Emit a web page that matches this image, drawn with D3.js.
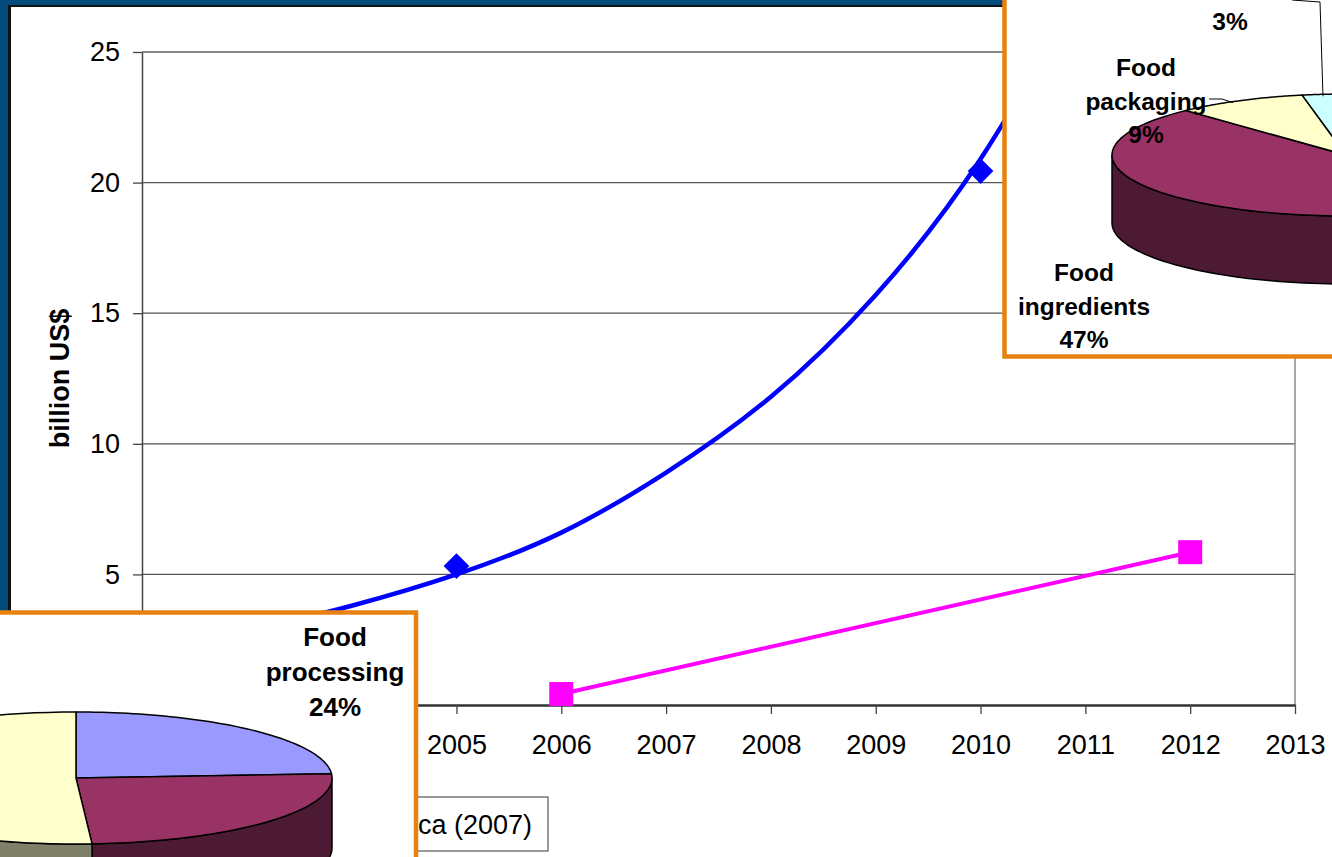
<!DOCTYPE html>
<html>
<head>
<meta charset="utf-8">
<script src="https://cdn.jsdelivr.net/npm/d3@7"></script>
<style>
  body { margin: 0; background: #fff; }
  svg { display: block; }
  text { font-family: "Liberation Sans", Arial, sans-serif; }
</style>
</head>
<body>
<svg width="1332" height="857"></svg>
<script>
// ---- data ----
const years = d3.range(2002, 2014);
const yTicks = [0, 5, 10, 15, 20, 25];

// blue diamonds (market estimates) and the fitted growth curve through them
const marketYears = [2005, 2010];
const marketValues = [5.32, 20.44];
const trendYears = [2003, 2004, 2005, 2006, 2007, 2008, 2009, 2010, 2011];
const trendValues = [2.8, 3.8, 5.0, 6.6, 8.9, 11.8, 15.7, 20.9, 27.8];

// magenta squares
const packYears = [2006, 2012];
const packValues = [0.42, 5.85];

// pie insets (only part of each is visible)
const topPieNames = ["Food processing", "Other", "Food ingredients", "Food packaging", ""];
const topPieValues = [24, 17, 47, 9, 3];
const bottomPieNames = ["Food processing", "Food ingredients", "Food packaging"];
const bottomPieValues = [24, 25, 51];

const sourceText = "Source: Cientifica (2007)";

// ---- setup ----
const svg = d3.select("svg");
const fill = { proc: "#9999FF", ingr: "#993366", pack: "#FFFFCC", other: "#CCFFFF" };
const side = { proc: "#4D4D80", ingr: "#4C1A33", pack: "#80806A", other: "#668080" };

// slide frame
svg.append("rect").attr("x", 0).attr("y", 0).attr("width", 1332).attr("height", 857).attr("fill", "#024B7A");
svg.append("rect").attr("x", 8).attr("y", 5).attr("width", 1340).attr("height", 870).attr("fill", "#111");
svg.append("rect").attr("x", 11).attr("y", 7).attr("width", 1340).attr("height", 870).attr("fill", "#fff");

const x = d3.scaleLinear().domain([2002, 2013]).range([142, 1295]);
const y = d3.scaleLinear().domain([0, 25]).range([705, 52]);

const g = svg.append("g");

// gridlines
g.selectAll("line.grid")
  .data(yTicks.filter(d => d > 0))
  .enter()
  .append("line")
    .attr("x1", x(2002)).attr("x2", x(2013))
    .attr("y1", d => y(d)).attr("y2", d => y(d))
    .attr("stroke", d => d == 25 ? "#8a8a8a" : "#555")
    .attr("stroke-width", d => d == 25 ? 2 : 1.3);

// right border of plot area
g.append("line")
  .attr("x1", x(2013)).attr("x2", x(2013))
  .attr("y1", y(25)).attr("y2", y(0))
  .attr("stroke", "#8a8a8a").attr("stroke-width", 1.5);

// y axis
const yAxis = g.append("g")
  .attr("transform", `translate(${x(2002)},0)`)
  .call(d3.axisLeft(y).tickValues(yTicks).tickSize(9).tickPadding(13).tickSizeOuter(0));
yAxis.select(".domain").attr("stroke", "#444").attr("stroke-width", 1.5);
yAxis.selectAll(".tick line").attr("stroke", "#444").attr("stroke-width", 1.3);
yAxis.selectAll("text").attr("font-size", 27).attr("fill", "#000")
  .style("font-family", '"Liberation Sans", Arial, sans-serif');

// x axis
const xAxis = g.append("g")
  .attr("transform", `translate(0,${y(0)})`)
  .call(d3.axisBottom(x).tickValues(years).tickFormat(d3.format("d")).tickSize(9).tickPadding(21).tickSizeOuter(0));
xAxis.select(".domain").attr("stroke", "#333").attr("stroke-width", 2.5);
xAxis.selectAll(".tick line").attr("stroke", "#444").attr("stroke-width", 1.3);
xAxis.selectAll("text").attr("font-size", 27).attr("fill", "#000")
  .style("font-family", '"Liberation Sans", Arial, sans-serif');

// y title
g.append("text")
  .attr("transform", `translate(69,${(y(0) + y(25)) / 2}) rotate(-90)`)
  .attr("text-anchor", "middle")
  .attr("font-size", 27)
  .attr("font-weight", "bold")
  .text("billion US$");

// clip for series
svg.append("clipPath").attr("id", "plotclip")
  .append("rect").attr("x", x(2002)).attr("y", y(25)).attr("width", x(2013) - x(2002)).attr("height", y(0) - y(25));

// growth curve
g.append("path")
  .datum(trendYears.map((yr, i) => [yr, trendValues[i]]))
  .attr("clip-path", "url(#plotclip)")
  .attr("fill", "none")
  .attr("stroke", "#0000FF")
  .attr("stroke-width", 4.5)
  .attr("d", d3.line().x(d => x(d[0])).y(d => y(d[1])).curve(d3.curveNatural));

// diamonds
g.selectAll("path.diamond")
  .data(marketYears.map((yr, i) => [yr, marketValues[i]]))
  .enter()
  .append("path")
    .attr("transform", d => `translate(${x(d[0])},${y(d[1])})`)
    .attr("d", d3.symbol().type(d3.symbolDiamond2).size(420))
    .attr("fill", "#0000FF");

// magenta line + squares
const pack = packYears.map((yr, i) => [yr, packValues[i]]);
g.append("path")
  .datum(pack)
  .attr("fill", "none")
  .attr("stroke", "#FF00FF")
  .attr("stroke-width", 4)
  .attr("d", d3.line().x(d => x(d[0])).y(d => y(d[1])));
g.selectAll("rect.sq")
  .data(pack)
  .enter()
  .append("rect")
    .attr("x", d => x(d[0]) - 12).attr("y", d => y(d[1]) - 12)
    .attr("width", 24).attr("height", 24)
    .attr("fill", "#FF00FF");

// source box
const src = svg.append("g");
src.append("rect").attr("x", 200).attr("y", 797).attr("width", 348).attr("height", 54)
  .attr("fill", "#fff").attr("stroke", "#333").attr("stroke-width", 1);
src.append("text").attr("x", 532).attr("y", 834).attr("text-anchor", "end")
  .attr("font-size", 27).text(sourceText);

// ---- 3D pie helper ----
function pie3d(pg, values, fills, sides, cx, cy, rx, ry, depth) {
  const arcs = d3.pie().sort(null).value(d => d)(values);
  const px = a => cx + rx * Math.sin(a);
  const py = a => cy - ry * Math.cos(a);
  const rim = (a0, a1, dy) => d3.range(0, 61).map(i => {
    const a = a0 + (a1 - a0) * i / 60;
    return [px(a), py(a) + dy];
  });
  // outer walls (front half only)
  arcs.forEach((d, i) => {
    const a0 = Math.max(d.startAngle, Math.PI / 2);
    const a1 = Math.min(d.endAngle, 3 * Math.PI / 2);
    if (a1 <= a0) return;
    pg.append("path")
      .attr("d", d3.line()(rim(a0, a1, 0).concat(rim(a1, a0, depth))) + "Z")
      .attr("fill", sides[i]).attr("stroke", "#000").attr("stroke-width", 1.5)
      .attr("stroke-linejoin", "round");
  });
  // top faces
  arcs.forEach((d, i) => {
    pg.append("path")
      .attr("d", d3.line()([[cx, cy]].concat(rim(d.startAngle, d.endAngle, 0))) + "Z")
      .attr("fill", fills[i]).attr("stroke", "#000").attr("stroke-width", 1.5)
      .attr("stroke-linejoin", "round");
  });
  return { arcs, px, py };
}

function label(pg, lines, cx, cy, size, lh) {
  const t = pg.append("text").attr("text-anchor", "middle").attr("font-size", size).attr("font-weight", "bold");
  lines.forEach((s, i) => {
    t.append("tspan").attr("x", cx).attr("y", cy + (i - (lines.length - 1) / 2) * lh + size * 0.36).text(s);
  });
}

// ---- top-right inset ----
const tr = svg.append("g");
tr.append("rect").attr("x", 1004.5).attr("y", -10).attr("width", 360).attr("height", 366.5)
  .attr("fill", "#fff").attr("stroke", "#E8820E").attr("stroke-width", 4.5);
const tp = pie3d(tr, topPieValues,
  [fill.proc, fill.proc, fill.ingr, fill.pack, fill.other],
  [side.proc, side.proc, side.ingr, side.pack, side.other],
  1346, 155, 234, 61, 68);
// leader lines
const a3 = (tp.arcs[4].startAngle + tp.arcs[4].endAngle) / 2;
tr.append("path")
  .attr("d", d3.line()([[1292, 0], [1320, 2], [tp.px(a3) - 1, tp.py(a3) + 2]]))
  .attr("fill", "none").attr("stroke", "#000").attr("stroke-width", 1);
const a9 = (tp.arcs[3].startAngle + tp.arcs[3].endAngle) / 2;
tr.append("path")
  .attr("d", d3.line()([[1209, 99], [1222, 99], [tp.px(a9) - 7, tp.py(a9) + 2]]))
  .attr("fill", "none").attr("stroke", "#000").attr("stroke-width", 1);
label(tr, [topPieValues[4] + "%"], 1230, 21, 24.5, 34);
label(tr, ["Food", "packaging", topPieValues[3] + "%"], 1146, 101, 24.5, 33.5);
label(tr, ["Food", "ingredients", topPieValues[2] + "%"], 1084, 306, 24.5, 33.5);

// ---- bottom-left inset ----
const bl = svg.append("g");
bl.append("rect").attr("x", -20).attr("y", 612.5).attr("width", 436).attr("height", 270)
  .attr("fill", "#fff").attr("stroke", "#E8820E").attr("stroke-width", 4.5);
pie3d(bl, bottomPieValues,
  [fill.proc, fill.ingr, fill.pack],
  [side.proc, side.ingr, side.pack],
  76, 778, 256, 66, 70);
label(bl, ["Food", "processing", bottomPieValues[0] + "%"], 335, 672, 26, 35);
</script>
</body>
</html>
